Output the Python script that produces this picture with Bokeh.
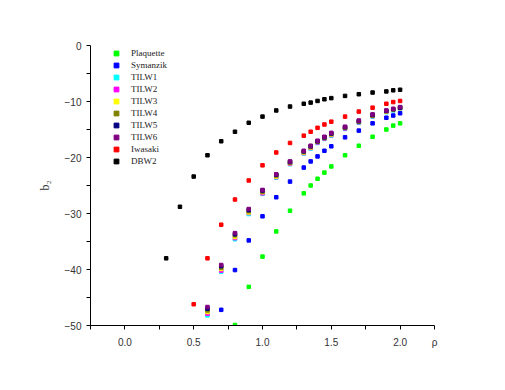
from bokeh.plotting import figure
from bokeh.models import Legend, LegendItem, Range1d, FixedTicker
from bokeh.embed import file_html
from bokeh.resources import INLINE

x_dbw2 = [0.3, 0.4, 0.5, 0.6, 0.7, 0.8, 0.9, 1.0, 1.1, 1.2, 1.3, 1.35, 1.4, 1.45, 1.5, 1.6, 1.7, 1.8, 1.9, 1.95, 2.0]
y_dbw2 = [-38.0, -28.8, -23.4, -19.6, -17.1, -15.4, -13.8, -12.7, -11.6, -10.9, -10.4, -10.2, -9.9, -9.6, -9.4, -9.0, -8.7, -8.4, -8.2, -8.0, -7.9]

x_iwasaki = [0.5, 0.6, 0.7, 0.8, 0.9, 1.0, 1.1, 1.2, 1.3, 1.35, 1.4, 1.45, 1.5, 1.6, 1.7, 1.8, 1.9, 1.95, 2.0]
y_iwasaki = [-46.2, -38.0, -32.0, -27.5, -24.1, -21.4, -19.1, -17.4, -16.1, -15.4, -14.7, -14.1, -13.6, -12.7, -11.8, -11.1, -10.4, -10.1, -9.9]

x_plaq = [0.8, 0.9, 1.0, 1.1, 1.2, 1.3, 1.35, 1.4, 1.45, 1.5, 1.6, 1.7, 1.8, 1.9, 1.95, 2.0]
y_plaq = [-49.9, -43.1, -37.7, -33.2, -29.5, -26.4, -25.0, -23.8, -22.7, -21.6, -19.6, -17.9, -16.3, -15.0, -14.3, -13.9]

x_sym = [0.7, 0.8, 0.9, 1.0, 1.1, 1.2, 1.3, 1.35, 1.4, 1.45, 1.5, 1.6, 1.7, 1.8, 1.9, 1.95, 2.0]
y_sym = [-47.2, -40.1, -34.8, -30.5, -27.1, -24.3, -21.8, -20.7, -19.8, -18.8, -18.0, -16.4, -15.2, -13.9, -12.9, -12.5, -12.1]

x_tilw = [0.6, 0.7, 0.8, 0.9, 1.0, 1.1, 1.2, 1.3, 1.35, 1.4, 1.45, 1.5, 1.6, 1.7, 1.8, 1.9, 1.95, 2.0]
y_tilw1 = [-48.2, -40.4, -34.6, -30.1, -26.5, -23.6, -21.2, -19.3, -18.4, -17.4, -16.7, -16.1, -14.9, -13.8, -12.7, -11.9, -11.6, -11.3]
y_tilw2 = [-47.9, -40.2, -34.4, -29.9, -26.4, -23.5, -21.1, -19.2, -18.3, -17.3, -16.6, -16.0, -14.8, -13.7, -12.6, -11.8, -11.5, -11.2]
y_tilw3 = [-47.6, -39.9, -34.2, -29.8, -26.2, -23.4, -21.0, -19.1, -18.2, -17.2, -16.5, -15.9, -14.7, -13.6, -12.5, -11.8, -11.5, -11.2]
y_tilw4 = [-47.3, -39.7, -33.9, -29.6, -26.1, -23.2, -20.9, -19.0, -18.1, -17.2, -16.5, -15.8, -14.7, -13.6, -12.5, -11.7, -11.4, -11.1]
y_tilw5 = [-47.0, -39.4, -33.7, -29.4, -25.9, -23.1, -20.8, -18.9, -18.0, -17.1, -16.4, -15.7, -14.6, -13.5, -12.4, -11.7, -11.4, -11.1]
y_tilw6 = [-46.7, -39.2, -33.5, -29.2, -25.8, -23.0, -20.7, -18.8, -17.9, -17.0, -16.3, -15.6, -14.5, -13.4, -12.3, -11.6, -11.3, -11.0]

series_names = ["Plaquette", "Symanzik", "TILW1", "TILW2", "TILW3", "TILW4", "TILW5", "TILW6", "Iwasaki", "DBW2"]
series_colors = ["#00ff00", "#0000ff", "#00ffff", "#ff00ff", "#ffff00", "#808000", "#000080", "#800080", "#ff0000", "#000000"]
series_x = [x_plaq, x_sym, x_tilw, x_tilw, x_tilw, x_tilw, x_tilw, x_tilw, x_iwasaki, x_dbw2]
series_y = [y_plaq, y_sym, y_tilw1, y_tilw2, y_tilw3, y_tilw4, y_tilw5, y_tilw6, y_iwasaki, y_dbw2]

x_ticks = [0.0, 0.5, 1.0, 1.5, 2.0, 2.25]
x_tick_labels = {0.0: "0.0", 0.5: "0.5", 1.0: "1.0", 1.5: "1.5", 2.0: "2.0", 2.25: "\u03c1"}
x_minor = [-0.25, 0.25, 0.75, 1.25, 1.75]
y_ticks = [0, -10, -20, -30, -40, -50]
y_minor = [-5, -15, -25, -35, -45]

W, H = 489, 374
p = figure(width=W, height=H, output_backend="svg", toolbar_location=None,
           x_range=Range1d(-0.25, 2.25), y_range=Range1d(-50, 0),
           min_border_left=90, min_border_right=55, min_border_top=45, min_border_bottom=49)
p.outline_line_color = None
p.grid.visible = False
p.background_fill_color = "white"
p.border_fill_color = "white"

for ax in (p.xaxis[0], p.yaxis[0]):
    ax.axis_line_color = "black"
    ax.major_tick_line_color = "black"
    ax.minor_tick_line_color = "black"
    ax.major_tick_in = 0
    ax.major_tick_out = 4
    ax.minor_tick_in = 0
    ax.minor_tick_out = 4
    ax.major_label_text_font = "Liberation Sans"
    ax.major_label_text_font_size = "10px"
    ax.major_label_text_color = "#333333"

p.xaxis.ticker = FixedTicker(ticks=x_ticks, minor_ticks=x_minor)
p.yaxis.ticker = FixedTicker(ticks=y_ticks, minor_ticks=y_minor)
p.xaxis.major_label_overrides = x_tick_labels
p.xaxis.major_label_standoff = 7
p.yaxis.major_label_standoff = 5

p.yaxis.axis_label = "b\u2082"
p.yaxis.axis_label_text_font = "Liberation Serif"
p.yaxis.axis_label_text_font_style = "normal"
p.yaxis.axis_label_text_font_size = "12px"
p.yaxis.axis_label_text_color = "#333333"
p.yaxis.axis_label_standoff = 10

items = []
for name, col, xs, ys in zip(series_names, series_colors, series_x, series_y):
    r = p.scatter(xs, ys, marker="square", size=3.5, fill_color=col, line_color=col)
    items.append(LegendItem(label=name, renderers=[r]))

legend = Legend(items=items, location=(19, 158), padding=0, margin=0,
                border_line_color=None, background_fill_alpha=0,
                label_text_font="Liberation Serif", label_text_font_size="9px",
                label_text_color="#222222", glyph_width=14, glyph_height=12,
                label_height=12, label_standoff=8, spacing=0)
p.add_layout(legend)

open("out.html", "w").write(file_html(p, INLINE))
